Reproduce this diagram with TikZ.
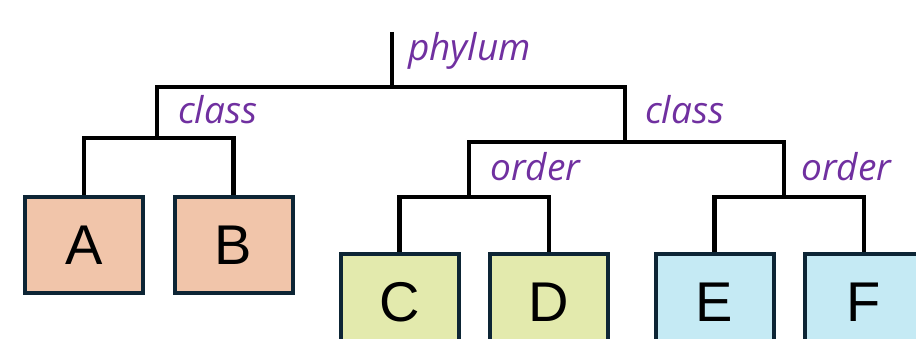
\documentclass[tikz,border=0pt]{standalone}
\usepackage{fontspec}
\setmainfont{Liberation Sans}
\newfontfamily\labfont{Open Sans}
\definecolor{peach}{HTML}{F1C5AA}
\definecolor{lime}{HTML}{E3EAAD}
\definecolor{sky}{HTML}{C5EAF4}
\definecolor{edge}{HTML}{0D2535}
\definecolor{purp}{HTML}{7030A0}
\tikzset{
  leaf/.style={draw=edge, line width=4pt, minimum width=118pt, minimum height=96pt, inner sep=0pt,
    font=\fontsize{56}{56}\selectfont, text=black},
  branch/.style={line width=4.2pt, line join=miter, draw=black},
  rank/.style={font=\labfont\itshape\fontsize{37}{37}\selectfont, text=purp, anchor=west, inner sep=0pt}
}
\begin{document}
\begin{tikzpicture}[x=1pt,y=-1pt]
\useasboundingbox (0,0) rectangle (916,339);
\clip (0,0) rectangle (916,339);
\node[leaf, fill=peach] (A) at (84,245) {A};
\node[leaf, fill=peach] (B) at (233.5,245) {B};
\node[leaf, fill=lime] (C) at (399.5,302) {C};
\node[leaf, fill=lime] (D) at (549,302) {D};
\node[leaf, fill=sky] (E) at (714.5,302) {E};
\node[leaf, fill=sky] (F) at (864,302) {F};
\coordinate (top) at (392,32);
\coordinate (ph) at (392,87);
\coordinate (cl1) at (157,138);
\coordinate (cl2) at (625,142);
\coordinate (or1) at (469,197);
\coordinate (or2) at (784,197);
\draw[branch] (top) -- (ph);
\draw[branch] (cl1) |- (ph) -| (cl2);
\draw[branch] (A.north) |- (cl1) -| (B.north);
\draw[branch] (or1) |- (cl2) -| (or2);
\draw[branch] (C.north) |- (or1) -| (D.north);
\draw[branch] (E.north) |- (or2) -| (F.north);
\node[rank] (lph) at (408,51) {phylum};
\node[rank] (lc1) at (178,110) {class};
\node[rank] (lc2) at (645,110) {class};
\node[rank] (lo1) at (490,167) {order};
\node[rank] (lo2) at (801,167) {order};
\end{tikzpicture}
\end{document}
